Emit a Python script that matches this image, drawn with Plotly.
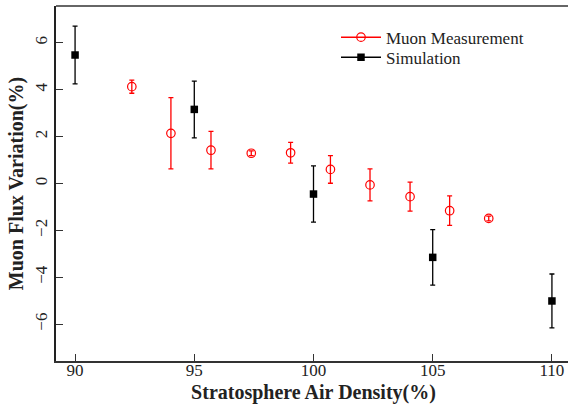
import plotly.graph_objects as go

# Muon measurement
meas_x = [92.38, 94.02, 95.70, 97.39, 99.04, 100.71, 102.37, 104.05, 105.71, 107.35]
meas_y = [4.13, 2.14, 1.42, 1.29, 1.31, 0.60, -0.06, -0.56, -1.16, -1.49]
meas_err = [0.28, 1.52, 0.80, 0.10, 0.44, 0.59, 0.68, 0.62, 0.63, 0.10]

# Simulation
sim_x = [90, 95, 100, 105, 110]
sim_y = [5.48, 3.16, -0.45, -3.15, -5.01]
sim_err = [1.23, 1.21, 1.20, 1.18, 1.15]

x_ticks = [90, 95, 100, 105, 110]
y_ticks = [-6, -4, -2, 0, 2, 4, 6]
y_tick_text = ["\u22126", "\u22124", "\u22122", "0", "2", "4", "6"]

FONT = "Liberation Serif"
RED = "#ff0000"
BLACK = "#000000"

W, H = 600, 404
L, R, T, B = 56, 29, 6, 43
PW, PH = W - L - R, H - T - B

fig = go.Figure()
fig.add_trace(go.Scatter(
    x=meas_x, y=meas_y, mode="markers", showlegend=False,
    marker=dict(symbol="circle-open", size=8.5, color=RED, line=dict(width=1.2, color=RED)),
    error_y=dict(type="data", array=meas_err, color=RED, thickness=1.3, width=2.5),
))
fig.add_trace(go.Scatter(
    x=sim_x, y=sim_y, mode="markers", showlegend=False,
    marker=dict(symbol="square", size=7.5, color=BLACK),
    error_y=dict(type="data", array=sim_err, color=BLACK, thickness=1.3, width=2.5),
))
# legend entries
fig.add_trace(go.Scatter(
    x=[None], y=[None], mode="lines+markers", name="Muon Measurement", legend="legend",
    line=dict(color=RED, width=1.5),
    marker=dict(symbol="circle-open", size=8.5, color=RED, line=dict(width=1.2, color=RED)),
))
fig.add_trace(go.Scatter(
    x=[None], y=[None], mode="lines+markers", name="Simulation", legend="legend2",
    line=dict(color=BLACK, width=1.5),
    marker=dict(symbol="square", size=7.5, color=BLACK),
))

leg_common = dict(xanchor="left", yanchor="top", bgcolor="rgba(0,0,0,0)",
                  font=dict(size=17, family=FONT, color="#222222"), itemwidth=40)
lx = (336 - L) / PW

fig.update_layout(
    width=W, height=H,
    margin=dict(l=L, r=R, t=T, b=B),
    plot_bgcolor="white", paper_bgcolor="white",
    font=dict(family=FONT, color="#222222", size=17),
    legend=dict(x=lx, y=1 - (19.6 - T) / PH, **leg_common),
    legend2=dict(x=lx, y=1 - (39.6 - T) / PH, **leg_common),
    xaxis=dict(
        range=[89.2, 110.8], tickvals=x_ticks, ticks="inside", ticklen=7,
        tickcolor="#333333", showgrid=False, zeroline=False, automargin=False,
        showline=True, linecolor="#333333", linewidth=1.5, mirror=False,
        tickfont=dict(size=17, family=FONT), ticklabelstandoff=-7,
        title=dict(text="<b>Stratosphere Air Density(%)</b>", font=dict(size=20, family=FONT), standoff=6),
    ),
    yaxis=dict(
        range=[-7.57, 7.57], tickvals=y_ticks, ticktext=y_tick_text, ticks="inside", ticklen=7,
        tickcolor="#333333", showgrid=False, zeroline=False, tickangle=-90, automargin=False,
        showline=True, linecolor="#222222", linewidth=1.5,
        tickfont=dict(size=17, family=FONT),
        title=dict(text="<b>Muon Flux Variation(%)</b>", font=dict(size=20, family=FONT), standoff=3),
    ),
    shapes=[dict(type="line", xref="paper", yref="paper", x0=0, x1=1, y0=1, y1=1,
                 line=dict(color="#333333", width=1.5))],
)

fig.write_html("out.html", config={"displayModeBar": False},
               post_script="document.documentElement.style.overflow='hidden';"
                           "document.body.style.margin='0';document.body.style.overflow='hidden';")
